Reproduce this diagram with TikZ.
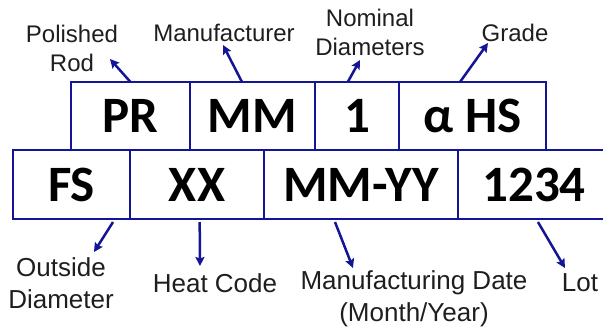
\documentclass[tikz,border=0pt]{standalone}
\usepackage{fontspec}
\setmainfont{Liberation Sans}
\newfontfamily\cellfont{Carlito}
\usetikzlibrary{arrows.meta,calc}
\definecolor{boxblue}{RGB}{20,20,150}
\definecolor{labelgray}{RGB}{30,30,30}
\begin{document}
\begin{tikzpicture}[x=1pt,y=-1pt,
  cell/.style={draw=boxblue, line width=2.5pt, rectangle, inner sep=0pt, outer sep=0pt,
    font=\cellfont\bfseries\fontsize{51}{51}\selectfont},
  lab/.style={align=center, text=labelgray, inner sep=0pt},
  toplab/.style={lab, font=\fontsize{24}{29}\selectfont},
  botlab/.style={lab, font=\fontsize{26}{32}\selectfont},
  arr/.style={draw=boxblue, line width=2.5pt, -{Stealth[length=9pt,width=9pt,inset=1.5pt]}}]
\useasboundingbox (0,0) rectangle (603,333);
% top row
\node[cell, minimum width=119pt, minimum height=68pt] (pr)  at (130.5,116) {PR};
\node[cell, minimum width=125pt, minimum height=68pt] (mm)  at (252.5,116) {MM};
\node[cell, minimum width=84pt,  minimum height=68pt] (one) at (357,116) {1};
\node[cell, minimum width=147pt, minimum height=68pt] (hs)  at (472.5,116) {α HS};
% bottom row
\node[cell, minimum width=117pt, minimum height=69pt] (fs)   at (71.5,184.5) {FS};
\node[cell, minimum width=134pt, minimum height=69pt] (xx)   at (197,184.5) {XX};
\node[cell, minimum width=194pt, minimum height=69pt] (mmyy) at (361,184.5) {MM-YY};
\node[cell, minimum width=152pt, minimum height=69pt] (lotc) at (534,184.5) {1234};
% labels
\node[toplab] (polished) at (72,48) {Polished\\Rod};
\node[toplab] (manuf) at (224,33) {Manufacturer};
\node[toplab] (nominal) at (370,32) {Nominal\\Diameters};
\node[toplab] (grade) at (515,33) {Grade};
\node[botlab] (outside) at (61,283) {Outside\\Diameter};
\node[botlab] (heat) at (215,283) {Heat Code};
\node[botlab] (mdate) at (414,299) {Manufacturing Date\\(Month/Year)};
\node[botlab] (lot) at (580,283) {Lot};
% arrow tips
\coordinate (t1) at (110,59);
\coordinate (t2) at (223,45);
\coordinate (t3) at (360,60);
\coordinate (t4) at (488,43);
\coordinate (b1) at (94,252);
\coordinate (b2) at (200,266);
\coordinate (b3) at (353,268);
\coordinate (b4) at (565,268);
% arrows
\draw[arr] (pr.north) -- (t1);
\draw[arr] ($(mm.north west)!0.416!(mm.north east)$) -- (t2);
\draw[arr] ($(one.north west)!0.39!(one.north east)$) -- (t3);
\draw[arr] ($(hs.north west)!0.415!(hs.north east)$) -- (t4);
\draw[arr] ($(fs.south west)!0.855!(fs.south east)+(0,3)$) -- (b1);
\draw[arr] ($(xx.south west)!0.52!(xx.south east)+(0,3)$) -- (b2);
\draw[arr] ($(mmyy.south west)!0.366!(mmyy.south east)+(0,3)$) -- (b3);
\draw[arr] ($(lotc.south west)!0.526!(lotc.south east)+(0,3)$) -- (b4);
\end{tikzpicture}
\end{document}
